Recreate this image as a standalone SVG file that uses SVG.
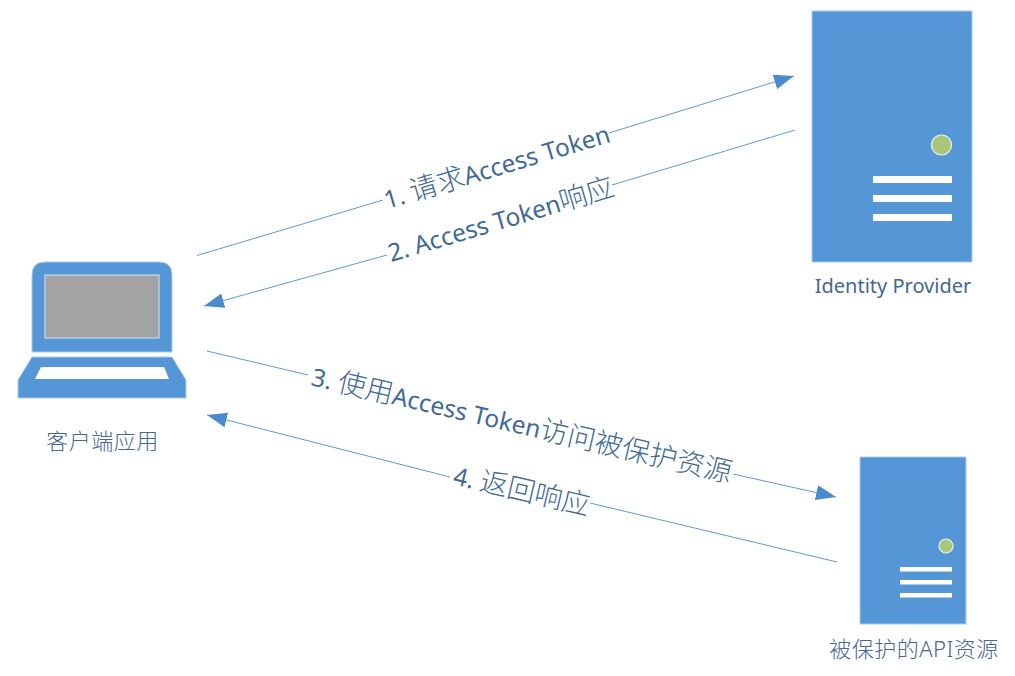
<svg xmlns="http://www.w3.org/2000/svg" width="1015" height="676" viewBox="0 0 1015 676">
<style>
.b{fill:#5596d6;stroke:#a9cbec;stroke-width:1}
.w{fill:#fff}
.led{fill:#a9c67e;stroke:#eef3e4;stroke-width:1.2}
.c{stroke:#5e9bd3;stroke-width:1;fill:none}
.t{font-family:"Noto Sans","Noto Sans CJK SC",sans-serif;fill:#3f6a96;font-size:24.5px}
.z{font-size:28px;font-weight:300}
.n{font-family:"Noto Sans","Noto Sans CJK SC",sans-serif;fill:#44688f;font-size:20px;text-anchor:middle}
.m{font-size:22px;font-weight:300;letter-spacing:.5px}
</style>
<defs>
<marker id="a" markerUnits="userSpaceOnUse" markerWidth="22" markerHeight="16" refX="20" refY="8" orient="auto"><path d="M0,0.5 L20,8 L0,15.5 Z" fill="#4a8ccb"/></marker>
</defs>
<rect width="1015" height="676" fill="#fff"/>
<g id="connectors">
<path class="c" d="M197,255.500 L383,200"/>
<path class="c" d="M609,133 L794,76" marker-end="url(#a)"/>
<path class="c" d="M795,130 L612,185"/>
<path class="c" d="M387,255 L204,306" marker-end="url(#a)"/>
<path class="c" d="M207,351 L308,375"/>
<path class="c" d="M733,474 L836,497" marker-end="url(#a)"/>
<path class="c" d="M837,562 L590,503"/>
<path class="c" d="M450,477 L207,415" marker-end="url(#a)"/>
</g>
<g id="client">
<path class="b" d="M32,352 V275 Q32,262 45,262 H159 Q172,262 172,275 V352 Z"/>
<rect x="45" y="275" width="114" height="63" fill="#a3a3a3" stroke="#d5e4f3" stroke-width="1"/>
<path class="b" d="M32,357 H172 L186,380 V398 H18 V380 Z"/>
<path class="w" d="M41,367 H164 L169,379 H35 Z"/>
<text class="n m" x="102.500" y="449">客户端应用</text>
</g>
<g id="identity-provider">
<rect class="b" x="812" y="11" width="160" height="251"/>
<circle class="led" cx="941.500" cy="145" r="10"/>
<rect class="w" x="873" y="176" width="79" height="7"/>
<rect class="w" x="873" y="195" width="79" height="7"/>
<rect class="w" x="873" y="214" width="79" height="7"/>
<text class="n" x="893" y="293">Identity Provider</text>
</g>
<g id="api-resource">
<rect class="b" x="860" y="457" width="106" height="167"/>
<circle class="led" cx="946" cy="546" r="7"/>
<rect class="w" x="900" y="567" width="52" height="4.500"/>
<rect class="w" x="900" y="580" width="52" height="4.500"/>
<rect class="w" x="900" y="593" width="52" height="4.500"/>
<text class="n m" x="914" y="657">被保护的API资源</text>
</g>
<g id="labels">
<text class="t" transform="translate(387,209) rotate(-16.700)">1. <tspan class="z">请求</tspan>Access Token</text>
<text class="t" transform="translate(391,262) rotate(-16.500)">2. Access Token<tspan class="z">响应</tspan></text>
<text class="t" transform="translate(310,385) rotate(13.100)">3. <tspan class="z">使用</tspan>Access Token<tspan class="z">访问被保护资源</tspan></text>
<text class="t" transform="translate(452,484) rotate(13.100)">4. <tspan class="z">返回响应</tspan></text>
</g>
</svg>
